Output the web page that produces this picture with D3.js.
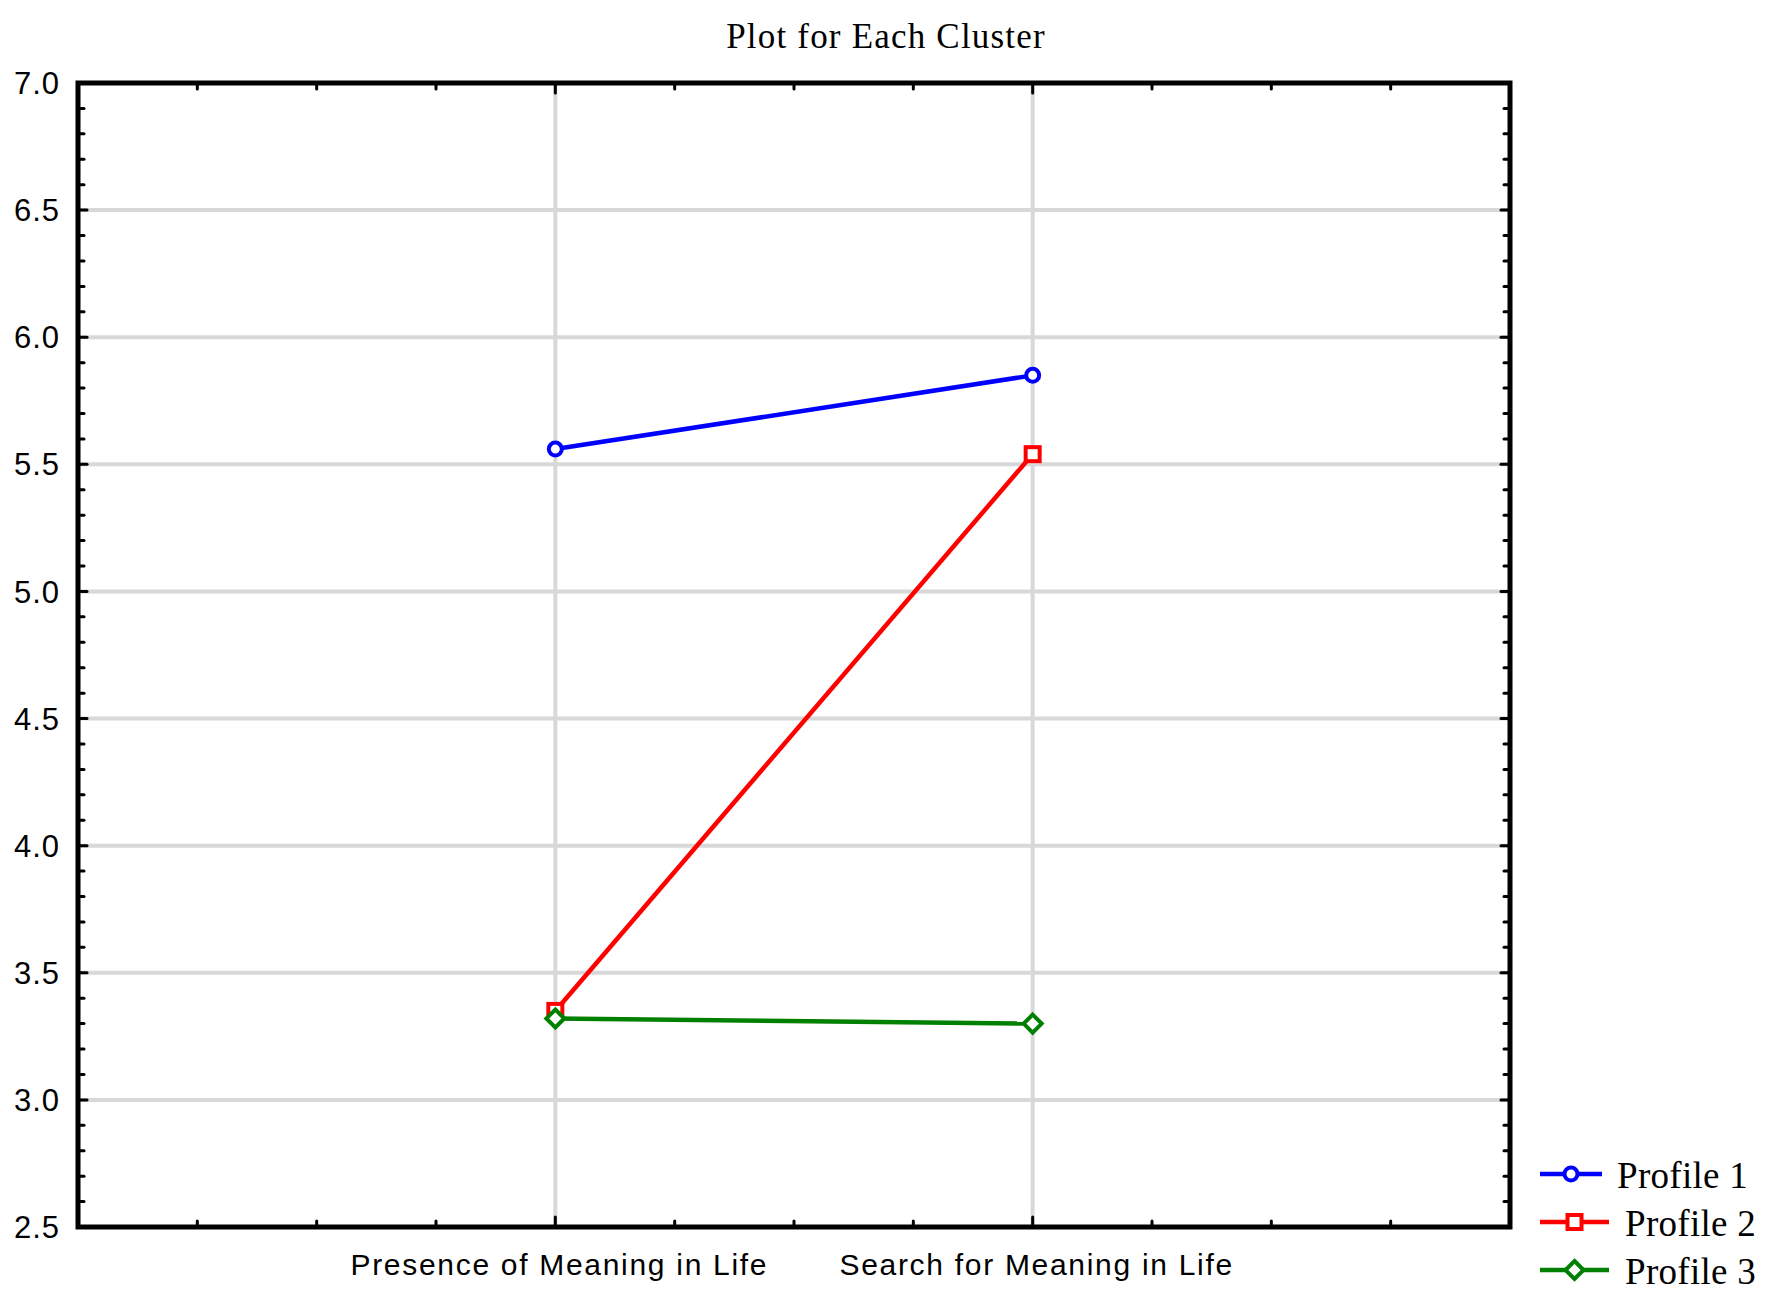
<!DOCTYPE html>
<html>
<head>
<meta charset="utf-8">
<script src="https://cdn.jsdelivr.net/npm/d3@7"></script>
<style>
body { margin: 0; background: #fff; }
</style>
</head>
<body>
<svg id="chart"></svg>
<script>
var width = 1770, height = 1296;
var margin = { left: 78, right: 260, top: 83, bottom: 69 };

// data
var categories = ['Presence of Meaning in Life', 'Search for Meaning in Life'];
var profiles = ['Profile 1', 'Profile 2', 'Profile 3'];
var profile1 = [5.56, 5.85];
var profile2 = [3.35, 5.54];
var profile3 = [3.32, 3.30];
var yTicks = [2.5, 3.0, 3.5, 4.0, 4.5, 5.0, 5.5, 6.0, 6.5, 7.0];

var series = [profile1, profile2, profile3];
var colors = ['#0000ff', '#ff0000', '#008000'];
var shapes = ['circle', 'square', 'diamond'];

var svg = d3.select('#chart')
	.attr('width', width)
	.attr('height', height);

var x = d3.scaleLinear().domain([0, 3]).range([margin.left, width - margin.right]);
var y = d3.scaleLinear().domain([2.5, 7]).range([height - margin.bottom, margin.top]);

// title
svg.append('text')
	.attr('x', 886)
	.attr('y', 48)
	.attr('text-anchor', 'middle')
	.attr('font-family', 'Liberation Serif, serif')
	.attr('font-size', 35)
	.attr('letter-spacing', 1.2)
	.text('Plot for Each Cluster');

// grid lines
var grid = svg.append('g');
grid.selectAll('line.h')
	.data(yTicks.slice(1, -1))
	.enter().append('line')
	.attr('x1', x(0)).attr('x2', x(3))
	.attr('y1', d => y(d)).attr('y2', d => y(d))
	.attr('stroke', '#d8d8d8').attr('stroke-width', 4);
grid.selectAll('line.v')
	.data([1, 2])
	.enter().append('line')
	.attr('x1', d => x(d)).attr('x2', d => x(d))
	.attr('y1', y(2.5)).attr('y2', y(7))
	.attr('stroke', '#d8d8d8').attr('stroke-width', 4);

// ticks pointing inward on all four sides
var minorY = d3.range(25, 71).map(d => d / 10);
var xTickVals = d3.range(1, 12).map(d => d / 4);
function tickLen(v) { return Math.abs(v * 2 - Math.round(v * 2)) < 1e-6 ? 9 : 6; }

var ticks = svg.append('g')
	.attr('stroke', '#000')
	.attr('stroke-width', 3)
	.attr('stroke-linecap', 'round');
ticks.selectAll('line.yl').data(minorY).enter().append('line')
	.attr('x1', x(0)).attr('x2', d => x(0) + tickLen(d))
	.attr('y1', d => y(d)).attr('y2', d => y(d));
ticks.selectAll('line.yr').data(minorY).enter().append('line')
	.attr('x1', x(3)).attr('x2', d => x(3) - tickLen(d))
	.attr('y1', d => y(d)).attr('y2', d => y(d));
ticks.selectAll('line.xb').data(xTickVals).enter().append('line')
	.attr('x1', d => x(d)).attr('x2', d => x(d))
	.attr('y1', y(2.5)).attr('y2', d => y(2.5) - (d % 1 === 0 ? 10 : 6));
ticks.selectAll('line.xt').data(xTickVals).enter().append('line')
	.attr('x1', d => x(d)).attr('x2', d => x(d))
	.attr('y1', y(7)).attr('y2', d => y(7) + (d % 1 === 0 ? 10 : 6));

// frame
svg.append('rect')
	.attr('x', x(0)).attr('y', y(7))
	.attr('width', x(3) - x(0)).attr('height', y(2.5) - y(7))
	.attr('fill', 'none').attr('stroke', '#000').attr('stroke-width', 5);

// y labels
svg.append('g').selectAll('text')
	.data(yTicks)
	.enter().append('text')
	.attr('x', 60)
	.attr('y', d => y(d))
	.attr('dy', '0.36em')
	.attr('text-anchor', 'end')
	.attr('font-family', 'Liberation Sans, Arial, sans-serif')
	.attr('font-size', 31)
	.attr('letter-spacing', 1)
	.text(d => d.toFixed(1));

// x labels
svg.append('g').selectAll('text')
	.data(categories)
	.enter().append('text')
	.attr('x', (d, i) => x(i + 1) + 4)
	.attr('y', 1275)
	.attr('text-anchor', 'middle')
	.attr('font-family', 'Liberation Sans, Arial, sans-serif')
	.attr('font-size', 30)
	.attr('letter-spacing', 1.7)
	.text(d => d);

function drawMarker(g, shape, color, cx, cy) {
	if (shape === 'circle') {
		g.append('circle').attr('cx', cx).attr('cy', cy).attr('r', 6.5)
			.attr('fill', '#fff').attr('stroke', color).attr('stroke-width', 4);
	} else if (shape === 'square') {
		g.append('rect').attr('x', cx - 7).attr('y', cy - 7)
			.attr('width', 14).attr('height', 14)
			.attr('fill', '#fff').attr('stroke', color).attr('stroke-width', 4);
	} else {
		g.append('path')
			.attr('d', 'M' + cx + ',' + (cy - 9) + 'L' + (cx + 9) + ',' + cy + 'L' + cx + ',' + (cy + 9) + 'L' + (cx - 9) + ',' + cy + 'Z')
			.attr('fill', '#fff').attr('stroke', color).attr('stroke-width', 4);
	}
}

// series lines
var line = d3.line().x((d, i) => x(i + 1)).y(d => y(d));
var lines = svg.append('g');
series.forEach(function (vals, s) {
	lines.append('path')
		.attr('d', line(vals))
		.attr('fill', 'none')
		.attr('stroke', colors[s])
		.attr('stroke-width', 4.5);
	vals.forEach(function (v, i) {
		drawMarker(lines, shapes[s], colors[s], x(i + 1), y(v));
	});
});

// legend
var legendY = [1174, 1222, 1270];
var legend = svg.append('g');
profiles.forEach(function (p, i) {
	var x0 = 1540, x1 = i === 0 ? 1602 : 1609;
	legend.append('line')
		.attr('x1', x0).attr('x2', x1)
		.attr('y1', legendY[i]).attr('y2', legendY[i])
		.attr('stroke', colors[i]).attr('stroke-width', 4.5);
	drawMarker(legend, shapes[i], colors[i], (x0 + x1) / 2, legendY[i]);
	legend.append('text')
		.attr('x', i === 0 ? 1617 : 1625)
		.attr('y', legendY[i] + 14)
		.attr('font-family', 'Liberation Serif, serif')
		.attr('font-size', 37)
		.attr('letter-spacing', 0.3)
		.text(p);
});
</script>
</body>
</html>
